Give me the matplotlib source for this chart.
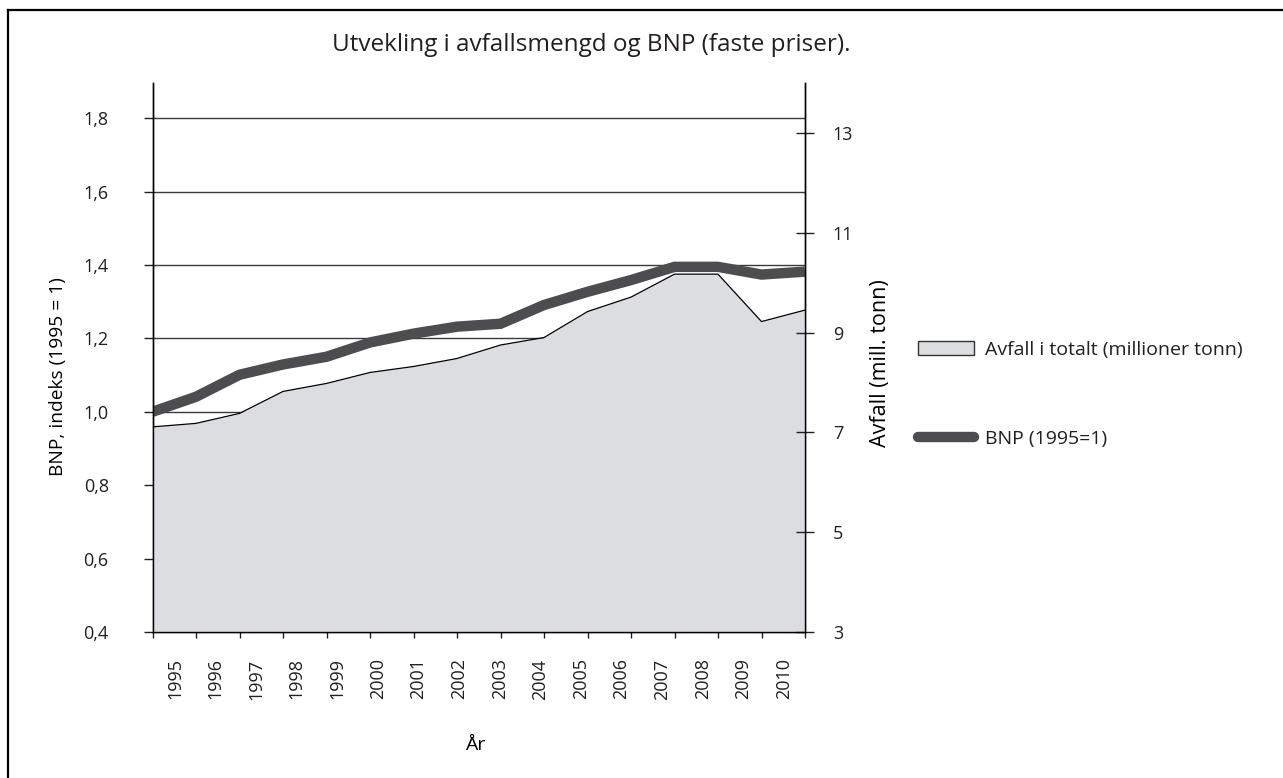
import matplotlib
matplotlib.use("Agg")
import matplotlib.pyplot as plt
from matplotlib.patches import Patch
from matplotlib.lines import Line2D

# Data
years = list(range(1995, 2011))
avfall = [7.11, 7.18, 7.38, 7.82, 7.98, 8.20, 8.32, 8.48,
          8.75, 8.90, 9.42, 9.71, 10.17, 10.17, 9.22, 9.45]   # mill. tonn (right axis)
bnp = [1.000, 1.041, 1.101, 1.129, 1.150, 1.189, 1.213, 1.232,
       1.240, 1.291, 1.327, 1.359, 1.395, 1.395, 1.374, 1.382]  # index 1995=1 (left axis)

left_ticks = [0.4, 0.6, 0.8, 1.0, 1.2, 1.4, 1.6, 1.8]
left_labels = ["0,4", "0,6", "0,8", "1,0", "1,2", "1,4", "1,6", "1,8"]
right_ticks = [3, 5, 7, 9, 11, 13]
year_labels = [str(y) for y in years]

title = "Utvekling i avfallsmengd og BNP (faste priser)."
legend_labels = ["Avfall i totalt (millioner tonn)", "BNP (1995=1)"]

# Style
AREA_COLOR = "#dcdde0"
LINE_COLOR = "#4d4d4f"
GRID_COLOR = "#3a3a3a"

plt.rcParams["font.family"] = ["Open Sans", "DejaVu Sans"]
plt.rcParams["text.color"] = "#231f20"
plt.rcParams["xtick.color"] = "#231f20"
plt.rcParams["ytick.color"] = "#231f20"

W, H = 1283, 778
fig = plt.figure(figsize=(W / 100, H / 100), dpi=100)
ax = fig.add_axes([152.5 / W, (H - 632) / H, 652.5 / W, 549 / H])
ax2 = ax.twinx()

# Left axis: grid and ticks
ax.set_xlim(1995, 2010)
ax.set_ylim(0.4, 1.896)
ax.set_yticks(left_ticks, left_labels)
ax.yaxis.grid(True, color=GRID_COLOR, lw=1.0)
ax.set_axisbelow(True)
ax.tick_params(axis="y", direction="out", length=6.5, width=1, pad=25, labelsize=13)

# Year ticks at each data point, labels spread out slightly differently
ax.set_xticks(years)
ax.set_xticklabels([])
ax.tick_params(axis="x", which="major", direction="out", length=4.5, width=1)
label_pos = [1995.517 + i * 14 / 15 for i in range(len(years))]
ax.set_xticks(label_pos, minor=True)
ax.set_xticklabels(year_labels, minor=True, rotation=90, fontsize=13)
ax.tick_params(axis="x", which="minor", length=0, pad=19)

# Right axis: waste area
ax2.set_ylim(3, 14.0)
ax2.set_yticks(right_ticks)
ax2.tick_params(axis="y", direction="inout", length=13, width=1, pad=13.5, labelsize=13)
ax2.fill_between(years, avfall, 3, color=AREA_COLOR, lw=0)
ax2.plot(years, avfall, color="black", lw=0.9)

# BNP line drawn above the area, but in left-axis units
ax2.plot(years, bnp, color=LINE_COLOR, lw=7.5, solid_capstyle="butt",
         solid_joinstyle="miter", transform=ax.transData)

for a in (ax, ax2):
    a.spines["top"].set_visible(False)
    for s in ("left", "right", "bottom"):
        a.spines[s].set_linewidth(1.0)

ax.set_ylabel("BNP, indeks (1995 = 1)", fontsize=13.8)
ax.yaxis.set_label_coords(-0.1448, 0.465)
ax.yaxis.label.set_va("center")
ax2.set_ylabel("Avfall (mill. tonn)", fontsize=15.5)
ax2.yaxis.set_label_coords(1.116, 0.49)
ax2.yaxis.label.set_va("center")

ax.set_xlabel("År", fontsize=14)
ax.xaxis.set_label_coords(0.495, -0.205)
ax.xaxis.label.set_va("center")

fig.text(591 / W, 1 - 45 / H, title, ha="center", va="center", fontsize=17.5)

handles = [
    Patch(facecolor=AREA_COLOR, edgecolor="#333333", lw=1),
    Line2D([], [], color=LINE_COLOR, lw=7.5, solid_capstyle="round"),
]
fig.legend(handles, legend_labels, loc="upper left",
           bbox_to_anchor=(918 / W, 1 - 341 / H), frameon=False, fontsize=14,
           handlelength=2.9, handleheight=0.72, handletextpad=0.55,
           labelspacing=3.65, borderpad=0, borderaxespad=0)

# Frame lines at top and left of the figure
fig.add_artist(Line2D([8 / W, 8 / W], [0, 1 - 10 / H], transform=fig.transFigure,
                      color="black", lw=1.6))
fig.add_artist(Line2D([8 / W, 1], [1 - 10 / H, 1 - 10 / H], transform=fig.transFigure,
                      color="black", lw=1.6))

fig.savefig("out.png", dpi=100)
